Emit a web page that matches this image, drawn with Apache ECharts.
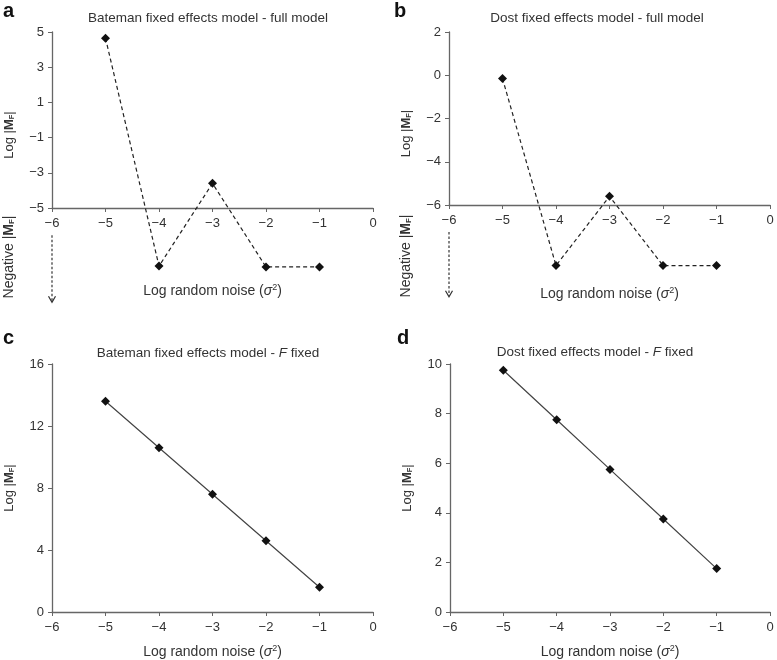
<!DOCTYPE html>
<html>
<head>
<meta charset="utf-8">
<script src="https://cdn.jsdelivr.net/npm/echarts@6/dist/echarts.min.js"></script>
<style>
html,body{margin:0;padding:0;background:#fff;}
#main{width:777px;height:660px;}
</style>
</head>
<body>
<div id="main"></div>
<script>
// ---- data ----
var xNoise = [-5, -4, -3, -2, -1];
// panel a: Bateman full model (points below axis are in the "Negative |M_F|" region)
var batemanFull = [4.65, -8.3, -3.6, -8.35, -8.35];
// panel b: Dost full model
var dostFull = [-0.15, -8.8, -5.6, -8.8, -8.8];
// panel c: Bateman F fixed
var batemanFFixed = [13.6, 10.6, 7.6, 4.6, 1.6];
// panel d: Dost F fixed
var dostFFixed = [9.75, 7.75, 5.75, 3.75, 1.75];
// axis ranges / ticks
var xTicks = [-6, 0, 1];          // min, max, interval
var yTicksA = [-5, 5, 2];
var yTicksB = [-6, 2, 2];
var yTicksC = [0, 16, 4];
var yTicksD = [0, 10, 2];
// "Negative" arrows (x, yStart, yEnd) in data units
var arrowA = [-6, -6.55, -10.3];
var arrowB = [-6, -7.25, -10.2];

var titles = [
  'Bateman fixed effects model - full model',
  'Dost fixed effects model - full model',
  '{n|Bateman fixed effects model - }{i|F}{n| fixed}',
  '{n|Dost fixed effects model - }{i|F}{n| fixed}'
];
var letters = ['a', 'b', 'c', 'd'];

var FONT = '"Liberation Sans", Arial, Helvetica, sans-serif';
var TXT = '#333';
var AX = '#666';

function pairs(xs, ys) { return xs.map(function (x, i) { return [x, ys[i]]; }); }

var grids = [
  {left: 52, top: 32, width: 321, height: 176},
  {left: 449, top: 32, width: 321, height: 173},
  {left: 52, top: 364, width: 321, height: 249},
  {left: 450, top: 364, width: 320, height: 249}
];
var yT = [yTicksA, yTicksB, yTicksC, yTicksD];
var xNameGaps = [75, 81, 32, 32];

var xNameRich = {
  n: {fontSize: 14, color: TXT, fontFamily: FONT},
  i: {fontSize: 14, color: TXT, fontFamily: FONT, fontStyle: 'italic'},
  sup: {fontSize: 9, color: TXT, fontFamily: FONT, verticalAlign: 'top', padding: [0, 0, 7, 0]}
};
var yNameRich = {
  n: {fontSize: 13, color: TXT, fontFamily: FONT},
  b: {fontSize: 13, color: TXT, fontFamily: FONT, fontWeight: 'bold'},
  s: {fontSize: 7.5, color: TXT, fontFamily: FONT, fontWeight: 'bold', verticalAlign: 'bottom', padding: [5, 0, 0, 0]}
};
function minus(v) { return String(v).replace('-', '\u2212'); }

var xAxes = grids.map(function (g, i) {
  return {
    gridIndex: i, type: 'value', min: xTicks[0], max: xTicks[1], interval: xTicks[2],
    name: '{n|Log random noise (}{i|σ}{sup|2}{n|)}',
    nameLocation: 'middle', nameGap: xNameGaps[i],
    nameTextStyle: {rich: xNameRich},
    axisLine: {onZero: false, lineStyle: {color: AX, width: 1.3}},
    axisTick: {show: true, length: 4, lineStyle: {color: AX}},
    axisLabel: {color: TXT, fontSize: 13, fontFamily: FONT, margin: 9, formatter: minus},
    splitLine: {show: false}
  };
});
var yAxes = grids.map(function (g, i) {
  return {
    gridIndex: i, type: 'value', min: yT[i][0], max: yT[i][1], interval: yT[i][2],
    name: '{n|Log |}{b|M}{s|F}{n||}',
    nameLocation: 'middle', nameGap: 36,
    nameTextStyle: {rich: yNameRich, padding: i < 2 ? [0, 30, 0, 0] : [0, 0, 0, 0]},
    axisLine: {show: true, onZero: false, lineStyle: {color: AX, width: 1.3}},
    axisTick: {show: true, length: 4, lineStyle: {color: AX}},
    axisLabel: {color: TXT, fontSize: 13, fontFamily: FONT, margin: 8, formatter: minus},
    splitLine: {show: false}
  };
});

function mainSeries(i, ys, dashed) {
  return {
    type: 'line', xAxisIndex: i, yAxisIndex: i,
    data: pairs(xNoise, ys), clip: false, silent: true,
    symbol: 'diamond', symbolSize: 9,
    itemStyle: {color: '#111'},
    lineStyle: dashed ? {color: '#222', width: 1.2, type: [4, 3]} : {color: '#444', width: 1.2, type: 'solid'},
    z: 3
  };
}
function arrowSeries(i, ar) {
  return {
    type: 'line', xAxisIndex: i, yAxisIndex: i, clip: false, silent: true,
    data: [
      {value: [ar[0], ar[1]], symbol: 'none'},
      {value: [ar[0], ar[2]], symbol: 'path://M0,0L5,7L10,0', symbolSize: [7, 6], symbolOffset: [0, -2],
        itemStyle: {color: 'rgba(0,0,0,0)', borderColor: '#333', borderWidth: 1.1}}
    ],
    lineStyle: {color: '#333', width: 1.2, type: [2.5, 2]},
    z: 2
  };
}

var graphics = [];
var letterPos = [[3, 1], [394, 1], [3, 328], [397, 328]];
letters.forEach(function (l, i) {
  graphics.push({type: 'text', left: letterPos[i][0], top: letterPos[i][1],
    style: {text: l, font: 'bold 20px ' + FONT, fill: '#111'}});
});
var titlePos = [[208, 18], [597, 18], [208, 353], [595, 352]];
titles.forEach(function (t, i) {
  graphics.push({type: 'text', x: titlePos[i][0], y: titlePos[i][1],
    style: {text: t, fill: TXT, align: 'center', verticalAlign: 'middle',
      font: '13.5px ' + FONT,
      rich: {n: {fontSize: 13.5, fontFamily: FONT, fill: TXT}, i: {fontSize: 13.5, fontFamily: FONT, fill: TXT, fontStyle: 'italic'}}}});
});
var negPos = [[9, 257], [406, 256]];
negPos.forEach(function (p) {
  graphics.push({type: 'text', x: p[0], y: p[1], rotation: Math.PI / 2,
    style: {text: '{n|Negative |}{b|M}{s|F}{n||}', align: 'center', verticalAlign: 'middle',
      rich: {
        n: {fontSize: 14, fontFamily: FONT, fill: TXT},
        b: {fontSize: 14, fontFamily: FONT, fill: TXT, fontWeight: 'bold'},
        s: {fontSize: 8, fontFamily: FONT, fill: TXT, fontWeight: 'bold', verticalAlign: 'bottom', padding: [5, 0, 0, 0]}
      }}});
});

var chart = echarts.init(document.getElementById('main'), null, {renderer: 'canvas'});
chart.setOption({
  animation: false,
  backgroundColor: '#fff',
  textStyle: {fontFamily: FONT},
  grid: grids,
  xAxis: xAxes,
  yAxis: yAxes,
  series: [
    mainSeries(0, batemanFull, true),
    mainSeries(1, dostFull, true),
    mainSeries(2, batemanFFixed, false),
    mainSeries(3, dostFFixed, false),
    arrowSeries(0, arrowA),
    arrowSeries(1, arrowB)
  ],
  graphic: graphics
});
</script>
</body>
</html>
